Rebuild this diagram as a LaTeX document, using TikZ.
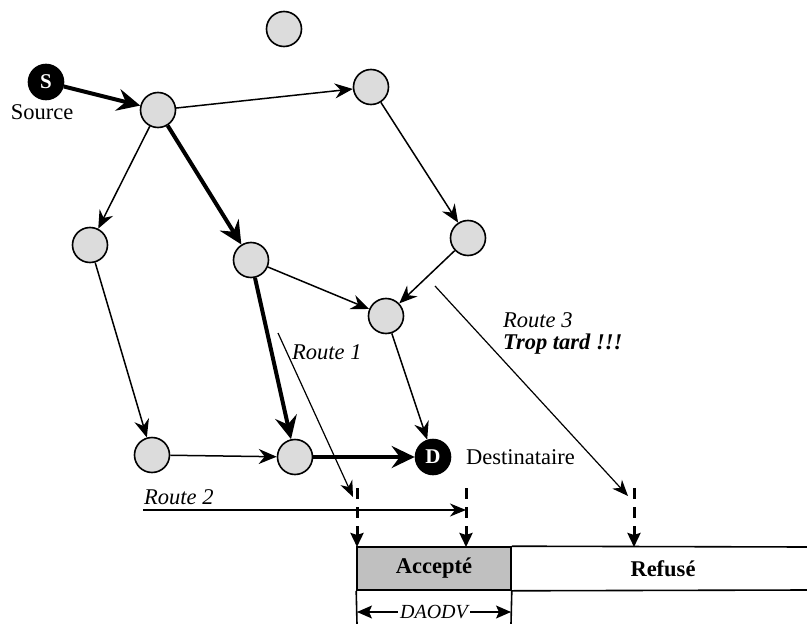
\documentclass[tikz,border=0pt]{standalone}
\usepackage{fontspec}
\setmainfont{Liberation Serif}
\usetikzlibrary{arrows.meta}
\definecolor{ngray}{HTML}{DCDCDC}
\definecolor{agray}{HTML}{C0C0C0}
\newcommand{\fsz}{\fontsize{22.5}{26}\selectfont}
\begin{document}
\begin{tikzpicture}[x=1pt,y=-1pt,font=\fsz,
  nd/.style={circle,draw,line width=1.6pt,fill=ngray,minimum size=35pt,inner sep=0pt},
  bk/.style={circle,draw,fill=black,line width=1.6pt,minimum size=35pt,inner sep=0pt,text=white,font=\fontsize{21}{24}\selectfont\bfseries},
  ethin/.style={line width=1.5pt,-{Stealth[length=18pt,width=15pt,inset=6pt]}},
  ethick/.style={line width=4pt,-{Stealth[length=23pt,width=22pt,inset=8pt]}},
  route/.style={line width=1.2pt,-{Stealth[length=16pt,width=13pt,inset=5pt]}},
  dsh/.style={line width=3pt,dash pattern=on 11pt off 8pt,-{Stealth[length=14pt,width=13pt,inset=2pt]}},
  lbl/.style={inner sep=0pt}]
\useasboundingbox (0,0) rectangle (807,624);
% nodes
\node[nd] (top) at (284,29) {};
\node[bk] (S) at (46,82) {S};
\node[nd] (n1) at (158,110) {};
\node[nd] (n2) at (371,87) {};
\node[nd] (n3) at (90,245) {};
\node[nd] (n4) at (251,260) {};
\node[nd] (n5) at (468,238) {};
\node[nd] (n6) at (386,316) {};
\node[nd] (n7) at (152,455) {};
\node[nd] (n8) at (295,457) {};
\node[bk] (D) at (433,457) {D};
% labels
\node[lbl] (src) at (42,112) {Source};
\node[lbl,anchor=west] (dst) at (466,457) {Destinataire};
\node[lbl,anchor=west,font=\fsz\itshape] (r1) at (292,352) {Route 1};
\node[lbl,anchor=west,font=\fsz\itshape] (r3) at (503,320) {Route 3};
\node[lbl,anchor=west,font=\fsz\bfseries\itshape] (late) at (503,344) {Trop tard !!!};
\node[lbl,anchor=west,font=\fsz\itshape] (r2) at (144,497) {Route 2};
% edges
\draw[ethick] (S) -- (n1);
\draw[ethick] (n1) -- (n4);
\draw[ethick] (n4) -- (n8);
\draw[ethick] (n8) -- (D);
\draw[ethin] (n1) -- (n2);
\draw[ethin] (n1) -- (n3);
\draw[ethin] (n2) -- (n5);
\draw[ethin] (n5) -- (n6);
\draw[ethin] (n4) -- (n6);
\draw[ethin] (n3) -- (n7);
\draw[ethin] (n7) -- (n8);
\draw[ethin] (n6) -- (D);
% box
\node[draw,fill=agray,line width=1.6pt,minimum width=154pt,minimum height=43pt,inner sep=0pt,
  font=\fsz\bfseries] (acc) at (434,568.5) {Accepté};
\node[lbl,font=\fsz\bfseries] (ref) at (663,568.5) {Refusé};
\coordinate (rtop) at (807,547);
\coordinate (rbot) at (807,590);
\coordinate (lb) at (357,624);
\coordinate (mb) at (511,624);
\draw[line width=1.6pt] (acc.north east) -- (rtop);
\draw[line width=1.6pt] (acc.south east) -- (rbot);
\draw[line width=1.6pt] (acc.south west) -- (lb);
\draw[line width=1.6pt] (acc.south east) -- (mb);
% dimension
\coordinate (dl) at (357,612);
\coordinate (dr) at (511,612);
\draw[line width=1.2pt,{Stealth[length=15pt,width=13pt,inset=3pt]}-{Stealth[length=15pt,width=13pt,inset=3pt]}] (dl) -- (dr)
  node[midway,fill=white,inner xsep=2pt,inner ysep=0pt,font=\fontsize{20}{22}\selectfont\itshape] (dao) {DAODV};
% dashed arrows
\coordinate (d1t) at (357,488);
\coordinate (d1b) at (357,547);
\coordinate (d2t) at (466,488);
\coordinate (d2b) at (466,547);
\coordinate (d3t) at (634,488);
\coordinate (d3b) at (634,547);
\draw[dsh] (d1t) -- (d1b);
\draw[dsh] (d2t) -- (d2b);
\draw[dsh] (d3t) -- (d3b);
% routes
\coordinate (r1s) at (278,333);
\coordinate (r1e) at (353,497);
\draw[route] (r1s) -- (r1e);
\coordinate (r2s) at (143,510);
\coordinate (r2e) at (466,510);
\draw[route] (r2s) -- (r2e);
\coordinate (r3s) at (435,286);
\coordinate (r3e) at (628,496);
\draw[route] (r3s) -- (r3e);
\end{tikzpicture}
\end{document}
